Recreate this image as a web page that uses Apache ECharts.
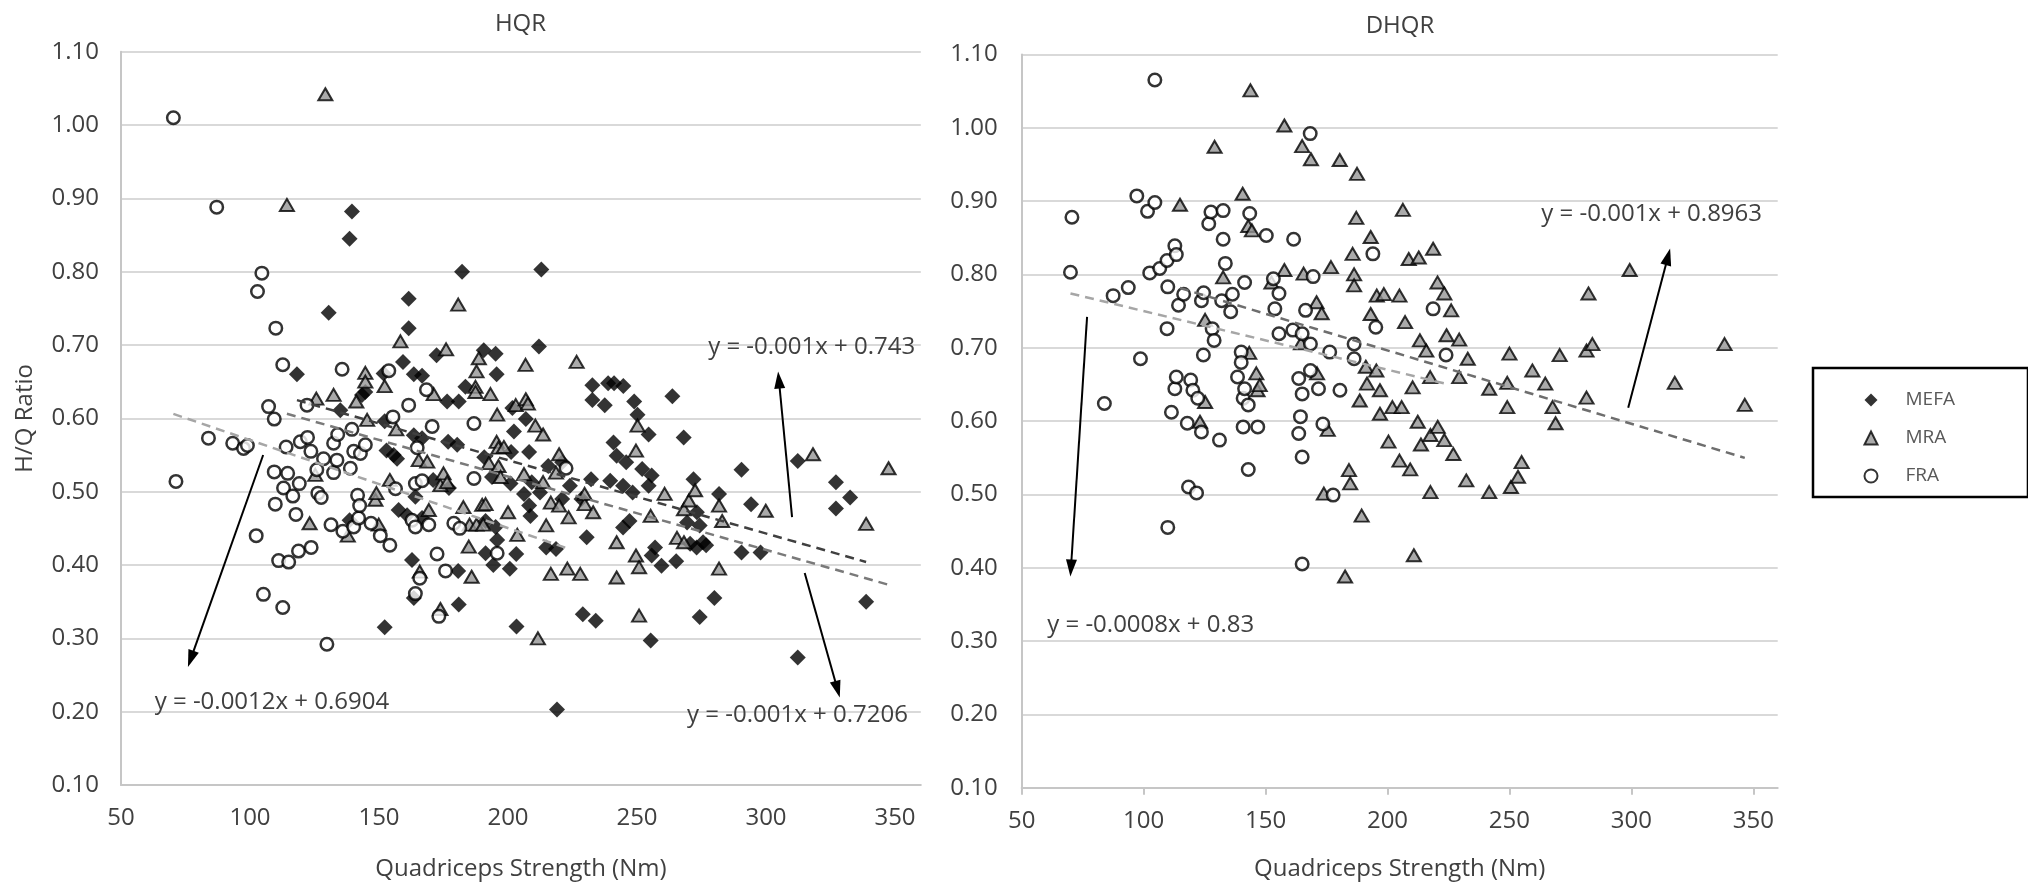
<!DOCTYPE html>
<html>
<head>
<meta charset="utf-8">
<script src="https://cdn.jsdelivr.net/npm/echarts@6/dist/echarts.min.js"></script>
<style>
  html, body { margin: 0; padding: 0; background: #fff; }
  #chart { width: 2028px; height: 889px; }
</style>
</head>
<body>
<div id="chart"></div>
<script>
// ---------- data ----------
const xTickValues = [50, 100, 150, 200, 250, 300, 350];

// HQR panel: [quadriceps strength (Nm), H/Q ratio]
const hqrMEFA = [[118.2,0.660],[130.5,0.744],[135.0,0.611],[138.6,0.845],[139.5,0.882],[138.6,0.461],[143.4,0.632],[144.7,0.636],[151.8,0.661],[152.2,0.596],[152.2,0.315],[152.9,0.556],[155.7,0.550],[157.0,0.545],[157.6,0.475],[159.3,0.677],[160.9,0.468],[161.5,0.763],[161.5,0.723],[162.8,0.407],[163.5,0.660],[163.5,0.577],[163.5,0.355],[164.1,0.493],[166.7,0.658],[166.7,0.573],[166.7,0.464],[172.3,0.686],[171.0,0.516],[176.4,0.623],[176.8,0.568],[177.1,0.505],[180.3,0.564],[180.7,0.392],[180.9,0.623],[180.9,0.346],[182.2,0.800],[183.5,0.643],[190.6,0.693],[190.8,0.547],[191.3,0.416],[191.3,0.460],[193.8,0.520],[194.3,0.400],[195.2,0.688],[195.2,0.452],[195.6,0.660],[195.8,0.434],[200.7,0.395],[201.0,0.511],[201.2,0.554],[201.7,0.614],[202.3,0.582],[203.2,0.415],[203.3,0.316],[206.2,0.497],[206.9,0.599],[208.2,0.554],[208.2,0.481],[208.7,0.467],[209.2,0.513],[212.0,0.698],[212.4,0.499],[212.9,0.803],[214.8,0.424],[215.6,0.535],[218.6,0.422],[219.0,0.203],[221.0,0.540],[221.0,0.490],[224.0,0.508],[228.5,0.490],[229.0,0.333],[230.5,0.438],[232.2,0.517],[232.7,0.645],[232.7,0.625],[234.0,0.324],[237.5,0.618],[238.8,0.648],[239.6,0.515],[240.9,0.567],[241.1,0.648],[242.1,0.549],[244.6,0.451],[244.6,0.508],[244.7,0.644],[245.8,0.540],[247.1,0.460],[248.3,0.499],[248.9,0.623],[250.2,0.605],[252.0,0.531],[254.5,0.508],[254.5,0.578],[255.3,0.297],[255.7,0.522],[255.7,0.413],[257.0,0.424],[259.5,0.399],[263.7,0.630],[265.2,0.405],[268.1,0.574],[269.4,0.458],[270.6,0.429],[271.9,0.517],[273.1,0.424],[273.2,0.472],[274.3,0.454],[274.3,0.329],[275.6,0.431],[276.8,0.427],[280.0,0.355],[281.8,0.497],[290.5,0.530],[290.5,0.417],[294.2,0.483],[297.9,0.417],[312.3,0.274],[312.3,0.542],[327.1,0.513],[327.1,0.477],[332.6,0.492],[338.8,0.350]];

const hqrMRA = [[114.3,0.891],[123.1,0.457],[125.3,0.523],[125.7,0.627],[129.2,1.042],[132.4,0.632],[137.9,0.440],[141.2,0.623],[144.7,0.662],[144.7,0.650],[145.4,0.598],[148.6,0.489],[149.0,0.498],[149.9,0.455],[152.2,0.644],[154.2,0.516],[156.7,0.585],[158.3,0.705],[165.4,0.543],[165.8,0.391],[168.7,0.541],[169.3,0.475],[171.2,0.633],[173.8,0.509],[173.8,0.340],[175.0,0.525],[176.0,0.694],[176.4,0.513],[180.7,0.755],[182.7,0.479],[184.8,0.425],[185.1,0.455],[185.9,0.384],[187.4,0.643],[187.4,0.636],[187.8,0.664],[187.8,0.455],[188.7,0.682],[190.0,0.482],[190.4,0.455],[191.3,0.483],[192.6,0.539],[193.2,0.633],[195.6,0.568],[195.8,0.605],[196.3,0.560],[196.3,0.535],[197.1,0.520],[198.4,0.561],[200.0,0.472],[203.0,0.618],[203.6,0.441],[206.2,0.524],[206.8,0.673],[206.9,0.626],[207.7,0.620],[210.6,0.590],[211.6,0.300],[213.6,0.513],[213.6,0.578],[214.8,0.454],[216.6,0.485],[216.6,0.388],[218.6,0.526],[219.8,0.551],[219.8,0.481],[223.0,0.395],[223.5,0.465],[226.6,0.677],[228.0,0.388],[229.7,0.483],[229.7,0.497],[233.0,0.472],[242.1,0.383],[242.1,0.431],[249.6,0.556],[249.6,0.413],[250.2,0.590],[250.8,0.397],[250.8,0.331],[255.3,0.467],[260.7,0.497],[265.5,0.437],[268.2,0.476],[268.2,0.431],[270.1,0.488],[272.5,0.502],[281.8,0.481],[283.0,0.460],[281.8,0.395],[299.9,0.474],[318.2,0.551],[338.8,0.456],[347.5,0.532]];

const hqrFRA = [[70.3,1.010],[71.3,0.514],[83.9,0.573],[87.1,0.888],[93.3,0.566],[97.5,0.559],[99.0,0.563],[102.4,0.440],[102.9,0.773],[104.6,0.798],[105.2,0.360],[107.2,0.616],[109.4,0.599],[109.4,0.527],[109.8,0.483],[110.0,0.723],[111.1,0.406],[112.7,0.342],[112.7,0.673],[113.0,0.505],[114.0,0.561],[114.6,0.525],[115.0,0.404],[116.6,0.494],[117.8,0.469],[118.8,0.419],[119.1,0.511],[119.5,0.568],[122.1,0.618],[122.3,0.574],[123.6,0.555],[123.7,0.424],[125.9,0.530],[126.3,0.498],[127.6,0.492],[128.5,0.545],[129.8,0.292],[131.4,0.455],[132.4,0.566],[132.4,0.526],[133.7,0.543],[134.0,0.578],[135.7,0.667],[136.0,0.446],[138.9,0.532],[139.5,0.585],[140.2,0.555],[140.2,0.452],[141.7,0.495],[142.1,0.464],[142.5,0.481],[142.8,0.552],[144.7,0.564],[146.9,0.457],[150.5,0.440],[153.8,0.665],[154.2,0.427],[155.4,0.602],[156.4,0.504],[161.5,0.618],[162.8,0.461],[164.1,0.511],[164.1,0.452],[164.1,0.361],[164.8,0.560],[165.8,0.382],[166.7,0.515],[168.4,0.639],[169.3,0.455],[170.6,0.589],[172.5,0.415],[173.2,0.330],[175.8,0.392],[179.0,0.457],[181.3,0.450],[186.8,0.593],[186.8,0.518],[195.8,0.416],[222.5,0.532]];

// DHQR panel
const dhqrMRA = [[114.9,0.895],[123.1,0.599],[125.2,0.738],[125.2,0.626],[129.1,0.974],[132.6,0.796],[140.6,0.910],[142.9,0.866],[143.3,0.693],[143.8,1.051],[144.4,0.860],[146.2,0.665],[146.7,0.642],[147.6,0.649],[152.4,0.789],[157.7,1.003],[157.7,0.806],[164.5,0.706],[165.0,0.975],[165.6,0.801],[168.6,0.957],[170.9,0.762],[171.1,0.665],[173.0,0.747],[173.9,0.501],[175.5,0.588],[176.8,0.810],[180.4,0.956],[182.6,0.388],[184.2,0.533],[184.7,0.515],[185.7,0.828],[186.3,0.800],[186.3,0.785],[187.2,0.877],[187.5,0.937],[188.6,0.628],[189.4,0.471],[191.1,0.674],[191.6,0.651],[193.1,0.851],[193.1,0.746],[195.4,0.669],[195.6,0.771],[196.9,0.642],[196.9,0.610],[198.5,0.773],[200.4,0.572],[202.0,0.619],[204.9,0.771],[204.9,0.546],[205.8,0.619],[206.3,0.888],[207.2,0.735],[208.7,0.821],[209.3,0.534],[210.3,0.646],[210.8,0.417],[212.4,0.599],[212.8,0.823],[213.3,0.710],[213.7,0.568],[215.9,0.696],[217.5,0.660],[217.6,0.581],[217.6,0.503],[218.7,0.835],[220.5,0.789],[220.6,0.592],[223.3,0.774],[223.3,0.574],[224.2,0.717],[226.1,0.751],[227.0,0.555],[229.4,0.711],[229.4,0.660],[232.3,0.519],[232.9,0.685],[241.7,0.644],[241.7,0.503],[249.1,0.652],[249.1,0.619],[250.0,0.692],[250.6,0.510],[253.5,0.524],[255.0,0.544],[259.4,0.669],[264.7,0.651],[267.7,0.619],[268.9,0.597],[270.6,0.690],[281.6,0.696],[281.6,0.632],[282.4,0.774],[284.0,0.705],[299.3,0.806],[317.8,0.652],[338.2,0.705],[346.5,0.622]];

const dhqrFRA = [[70.0,0.803],[70.6,0.878],[83.9,0.624],[87.5,0.771],[93.7,0.782],[97.2,0.907],[98.7,0.685],[101.6,0.886],[102.5,0.802],[104.6,1.065],[104.6,0.898],[106.6,0.808],[109.6,0.819],[109.6,0.726],[109.9,0.783],[109.9,0.455],[111.4,0.612],[112.8,0.839],[112.8,0.644],[113.4,0.827],[113.4,0.660],[114.3,0.758],[116.4,0.773],[117.9,0.597],[118.4,0.510],[119.3,0.656],[120.2,0.642],[121.7,0.502],[122.2,0.631],[123.7,0.764],[123.7,0.585],[124.5,0.690],[124.6,0.775],[126.7,0.869],[127.6,0.885],[128.1,0.726],[128.9,0.710],[131.1,0.574],[132.0,0.764],[132.6,0.887],[132.6,0.848],[133.5,0.815],[135.7,0.749],[136.4,0.773],[138.5,0.660],[140.0,0.694],[140.0,0.680],[140.8,0.631],[140.8,0.592],[141.4,0.789],[141.4,0.644],[142.9,0.622],[142.9,0.534],[143.5,0.883],[146.8,0.592],[150.3,0.853],[153.2,0.794],[153.8,0.753],[155.5,0.774],[155.5,0.719],[161.2,0.724],[161.5,0.848],[163.6,0.658],[163.6,0.583],[164.3,0.606],[165.0,0.719],[165.0,0.637],[165.0,0.551],[165.0,0.405],[166.4,0.751],[168.3,0.992],[168.4,0.705],[168.4,0.669],[169.5,0.797],[171.7,0.644],[173.5,0.596],[176.3,0.694],[177.7,0.499],[180.5,0.642],[186.3,0.705],[186.3,0.685],[194.0,0.828],[195.2,0.728],[218.7,0.753],[224.0,0.690]];

// linear trend coefficients [slope, intercept]
const trendHqrMEFA = [-0.001, 0.743];
const trendHqrMRA = [-0.001, 0.7206];
const trendHqrFRA = [-0.0012, 0.6904];
const trendDhqrMRA = [-0.001, 0.8963];
const trendDhqrFRA = [-0.0008, 0.83];

// ---------- annotation placement (data coordinates) ----------
const eqPosHqrMEFA = [317.7, 0.697];
const eqPosHqrMRA = [312.2, 0.1954];
const eqPosHqrFRA = [108.5, 0.2136];
const eqPosDhqrMRA = [308.3, 0.8823];
const eqPosDhqrFRA = [102.9, 0.321];

const arrowHqrMEFA = [[310.1, 0.4654], [305.0, 0.6523]];
const arrowHqrMRA = [[315.0, 0.389], [327.7, 0.2305]];
const arrowHqrFRA = [[105.1, 0.550], [77.05, 0.272]];
const arrowDhqrMRA = [[298.7, 0.618], [315.0, 0.824]];
const arrowDhqrFRA = [[76.8, 0.742], [70.2, 0.3996]];

// ---------- styling ----------
const FONT = '"Open Sans", "DejaVu Sans", sans-serif';
const TEXT = '#404040';
const AXIS_GREY = '#c6c6c6';
const GRID_GREY = '#d9d9d9';

const markerMEFA = { symbol: 'diamond', symbolSize: 16, itemStyle: { color: '#000', borderColor: '#000', borderWidth: 0 } };
const markerMRA = { symbol: 'triangle', symbolSize: [14, 12], itemStyle: { color: '#959595', borderColor: '#000', borderWidth: 2 } };
const markerFRA = { symbol: 'circle', symbolSize: 12.5, itemStyle: { color: '#fff', borderColor: '#000', borderWidth: 2.5 } };

function scatter(name, data, grid, marker) {
  return Object.assign({
    type: 'scatter', name: name, data: data,
    xAxisIndex: grid, yAxisIndex: grid, z: 2, silent: true
  }, marker);
}

function trendEnds(points, coef) {
  const xs = points.map(p => p[0]);
  const x0 = Math.min(...xs), x1 = Math.max(...xs);
  return [[x0, coef[0] * x0 + coef[1]], [x1, coef[0] * x1 + coef[1]]];
}

function eqText(coef) {
  return 'y = ' + coef[0] + 'x + ' + coef[1];
}

function trend(name, points, coef, grid, color, eqPos, arrow) {
  return {
    type: 'line', name: name, data: trendEnds(points, coef),
    xAxisIndex: grid, yAxisIndex: grid, z: 3, silent: true,
    symbol: 'none',
    lineStyle: { color: color, width: 2.5, type: [9, 6] },
    markPoint: {
      silent: true, symbol: 'rect', symbolSize: 1,
      itemStyle: { color: 'rgba(0,0,0,0)' },
      label: { show: true, position: 'inside', formatter: eqText(coef), fontSize: 24, color: '#404040', fontFamily: FONT },
      data: [{ coord: eqPos }]
    },
    markLine: {
      silent: true, symbol: ['none', 'triangle'], symbolSize: [11, 17],
      lineStyle: { color: '#000', width: 2, type: 'solid' },
      label: { show: false },
      data: [[{ coord: arrow[0] }, { coord: arrow[1] }]]
    }
  };
}

function xAxis(grid, withTicks, nameGap) {
  return {
    gridIndex: grid, type: 'value', min: 50, max: 360,
    axisLine: { show: true, onZero: false, lineStyle: { color: AXIS_GREY, width: 2 } },
    axisTick: { show: withTicks, customValues: xTickValues, length: 7, lineStyle: { color: AXIS_GREY, width: 2 } },
    splitLine: { show: false },
    axisLabel: { customValues: xTickValues, fontSize: 24, color: TEXT, margin: 21, fontFamily: FONT },
    name: 'Quadriceps Strength (Nm)', nameLocation: 'middle', nameGap: nameGap,
    nameTextStyle: { fontSize: 24, color: TEXT, fontFamily: FONT }
  };
}

function yAxis(grid, name, margin) {
  return {
    gridIndex: grid, type: 'value', min: 0.1, max: 1.1, interval: 0.1,
    axisLine: { show: true, onZero: false, lineStyle: { color: AXIS_GREY, width: 2 } },
    axisTick: { show: false },
    splitLine: { show: true, lineStyle: { color: GRID_GREY, width: 2 } },
    axisLabel: { formatter: v => v.toFixed(2), fontSize: 24, color: TEXT, margin: margin, fontFamily: FONT },
    name: name, nameLocation: 'middle', nameGap: 83.5,
    nameTextStyle: { fontSize: 24, color: TEXT, fontFamily: FONT }
  };
}

const chart = echarts.init(document.getElementById('chart'), null, { renderer: 'canvas', width: 2028, height: 889 });

chart.setOption({
  animation: false,
  backgroundColor: '#ffffff',
  textStyle: { fontFamily: FONT },
  title: [
    { text: 'HQR', left: 520.5, top: 12, textAlign: 'center', padding: 0,
      textStyle: { fontSize: 24, fontWeight: 'normal', color: TEXT, fontFamily: FONT } },
    { text: 'DHQR', left: 1400, top: 14, textAlign: 'center', padding: 0,
      textStyle: { fontSize: 24, fontWeight: 'normal', color: TEXT, fontFamily: FONT } }
  ],
  legend: {
    data: ['MEFA', 'MRA', 'FRA'], orient: 'vertical',
    left: 1813, top: 368,
    itemWidth: 13, itemHeight: 13, itemGap: 19,
    padding: [22.5, 73, 11.5, 50.5],
    borderColor: '#000', borderWidth: 2.5, backgroundColor: '#fff',
    selectedMode: false,
    textStyle: { fontSize: 19, color: '#595959', fontFamily: FONT, lineHeight: 19, padding: [0, 0, 0, 23] }
  },
  grid: [
    { left: 121, top: 51.7, width: 799.8, height: 733.3, outerBoundsMode: 'none' },
    { left: 1021.7, top: 54.4, width: 756, height: 733.3, outerBoundsMode: 'none' }
  ],
  xAxis: [xAxis(0, false, 72), xAxis(1, true, 69.5)],
  yAxis: [yAxis(0, 'H/Q Ratio', 22), yAxis(1, '', 24)],
  series: [
    scatter('MEFA', hqrMEFA, 0, markerMEFA),
    scatter('MRA', hqrMRA, 0, markerMRA),
    scatter('FRA', hqrFRA, 0, markerFRA),
    scatter('MRA', dhqrMRA, 1, markerMRA),
    scatter('FRA', dhqrFRA, 1, markerFRA),
    trend('HQR MEFA trend', hqrMEFA, trendHqrMEFA, 0, '#404040', eqPosHqrMEFA, arrowHqrMEFA),
    trend('HQR MRA trend', hqrMRA, trendHqrMRA, 0, '#7a7a7a', eqPosHqrMRA, arrowHqrMRA),
    trend('HQR FRA trend', hqrFRA, trendHqrFRA, 0, '#a6a6a6', eqPosHqrFRA, arrowHqrFRA),
    trend('DHQR MRA trend', dhqrMRA, trendDhqrMRA, 1, '#6e6e6e', eqPosDhqrMRA, arrowDhqrMRA),
    trend('DHQR FRA trend', dhqrFRA, trendDhqrFRA, 1, '#a6a6a6', eqPosDhqrFRA, arrowDhqrFRA)
  ]
});
</script>
</body>
</html>
